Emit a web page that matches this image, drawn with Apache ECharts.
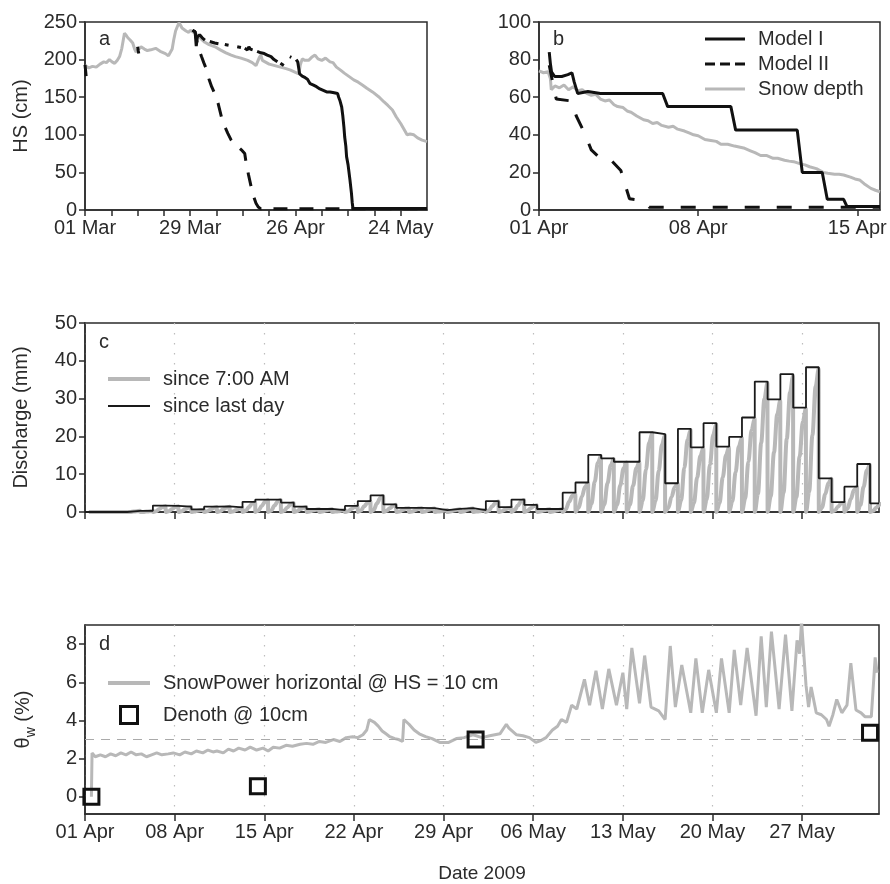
<!DOCTYPE html>
<html>
<head>
<meta charset="utf-8">
<script src="https://cdn.jsdelivr.net/npm/echarts@6.0.0/dist/echarts.min.js"></script>
<style>
  html, body { margin: 0; padding: 0; background: #fff; }
  #chart { width: 890px; height: 884px; }
</style>
</head>
<body>
<div id="chart"></div>
<script>
// ---- panel a : days since 01 Mar ----
var aTickDays = [0, 7, 14, 21, 28, 35, 42, 49, 56, 63, 70, 77, 84];
var aLabelDays = [0, 28, 56, 84];
var aLabels = ['01 Mar', '29 Mar', '26 Apr', '24 May'];

var snowA = [[0,192],[1,189],[2,191],[3,190],[4,194],[5,197],[5.7,196],[6.5,200],[7.2,197],[7.9,195],[8.6,199],[9.2,204],[9.8,215],[10.5,235],[11,232],[11.4,229],[12,226],[12.7,222],[13.2,214],[13.6,210],[14.3,214],[14.9,217],[15.8,214],[16.6,212],[17.5,213],[18.8,215],[20,211],[21.4,208],[22.2,205],[22.7,203],[23.2,214],[23.6,226],[24.1,238],[24.5,243],[25,249],[25.4,246],[25.8,242],[26.2,241],[26.9,238],[27.6,236],[28,239],[28.4,238],[29.3,235],[30.2,231],[31,227],[31.9,223],[33,220],[34.6,217],[36,213],[37.5,209],[38.9,206],[40,204],[41.5,202],[43.3,199],[44.5,196],[45.5,192],[46,194],[46.4,203],[46.8,206],[47.2,199],[47.7,197],[49,194],[50.5,192],[52,190],[53.5,188],[54.7,186],[56,183],[56.9,181],[57.3,193],[57.8,201],[58.5,199],[59.5,199],[60.3,203],[61.2,206],[62,201],[63,199],[64,202],[65.2,197],[66,196],[66.9,190],[68,186],[69,182],[70.4,177],[71.5,173],[72.7,170],[73.9,166],[75,162],[76.5,157],[78.3,150],[79.5,144],[80.6,139],[81.8,133],[82.8,124],[84,115],[84.8,108],[85.7,100],[86.5,101],[87.5,100],[88.5,96],[89.7,93],[91,91]];

var modelIA = [[0,193],[0.15,186],[0.3,178],[0.3,'-'],
  [14,217],[14.15,212],[14.3,208],[14.3,'-'],
  [28.6,239],[29.3,237],[29.6,218],[29.9,230],[30.5,233],[31.2,229],[31.9,226],[32,'-'],
  [33.2,224],[34.5,222],[35.5,221],[35.6,'-'],
  [37.2,220],[38.2,219],[38.3,'-'],
  [40.5,217],[41.5,216],[41.6,'-'],
  [42.5,215],[43.2,213],[43.6,217],[44,214],[44.6,213],[44.7,'-'],
  [45.8,211],[46.8,209],[47.7,208],[48.5,206],[49.5,204],[50.3,200],[51.2,197],[51.3,'-'],
  [52.0,195],[52.9,192],[53,'-'],
  [54.5,204],[54.9,203],[55,'-'],
  [56.2,200],[56.6,197],[57.1,181],[57.8,178],[58.6,176],[59.2,174],[59.9,168],[60.8,166],[61.6,164],[62.5,161],[63.4,159],[64.3,157],[65.2,157],[66.3,156],[67.2,155],[67.5,150],[67.8,146],[68.3,137],[68.6,125],[68.9,110],[69.1,97],[69.4,85],[69.6,71],[70,60],[70.5,40],[70.9,22],[71.1,10],[71.3,2],[91,2]];

var modelIIA = [[28.6,239],[29.3,237],[30,218],[31,204],[31.6,196],[32.4,186],[33,174],[33.7,164],[34.5,155],[35.4,142],[36.3,124],[37.2,111],[38,102],[38.9,93],[39.8,87],[40.7,84],[41.6,80],[42.5,75],[42.9,62],[43.5,47],[44.2,31],[44.8,19],[45.5,9],[46.1,4],[46.8,1.5],[91,1.5]];

// ---- panel b : days since 01 Apr ----
var bTickDays = [0, 7, 14];
var bLabels = ['01 Apr', '08 Apr', '15 Apr'];

var modelIB = [[0.45,84],[0.5,78],[0.55,73.5],[0.69,71],[1.0,71],[1.27,72],[1.45,73],[1.55,68],[1.7,62],[2.15,63],[2.7,62],[5.44,62],[5.66,55],[8.44,55],[8.65,42.5],[11.36,42.5],[11.58,20],[12.46,20],[12.68,5.7],[13.4,5.7],[13.55,1.8],[15,1.8]];
var modelIIB = [[0.45,77],[0.6,68],[0.76,59],[1.42,58],[1.64,50],[2.0,41],[2.3,32],[2.73,27],[3.17,26.5],[3.6,21],[3.8,13],[3.98,6],[4.56,5],[4.85,1.5],[15,1.5]];
var snowB = [[0,74],[0.2,73],[0.4,73.5],[0.5,70],[0.54,64],[0.7,66],[0.9,65],[1.1,66.5],[1.3,64],[1.5,65.5],[1.7,63.5],[1.9,64],[2.1,62],[2.3,61],[2.5,61.5],[2.7,59],[2.9,58],[3.1,58.5],[3.3,56],[3.46,55],[3.7,54.5],[3.9,52.5],[4.05,52],[4.3,50],[4.6,48],[4.8,47.5],[5.0,46],[5.2,46.5],[5.4,45],[5.7,44],[5.9,44.5],[6.1,43],[6.4,42],[6.6,41],[6.8,40],[7.0,39.5],[7.3,37.5],[7.56,37],[7.8,36.5],[8.0,35],[8.3,35],[8.6,34],[8.8,33.5],[9.0,33],[9.3,31.5],[9.5,30.5],[9.75,29],[10,29],[10.3,27.5],[10.5,27.5],[10.8,26.5],[11.0,26],[11.2,25.7],[11.5,24.5],[11.7,24],[11.9,23],[12.2,22],[12.5,20],[12.7,19.5],[13.0,19],[13.2,19],[13.4,18.6],[13.7,17.5],[13.9,16.5],[14.1,16],[14.3,14],[14.6,11.5],[14.8,10.5],[15,9.7]];

// ---- panels c, d : days since 01 Apr ----
var weekDays = [0, 7, 14, 21, 28, 35, 42, 49, 56];
var weekLabels = ['01 Apr', '08 Apr', '15 Apr', '22 Apr', '29 Apr', '06 May', '13 May', '20 May', '27 May'];

// daily discharge since last day (mm), day d covers d+0.3 .. d+1.3
var dischargeDaily = [0,0,0,0.3,0.3,1.7,1.6,1.4,0.7,1.4,1.5,1.2,2.7,3.3,3.3,2.5,1.4,0.8,0.8,0.5,1.6,2.9,4.4,2.0,1.1,1.1,1.0,0.5,0.8,1.0,0.5,2.9,1.3,3.3,1.9,0.8,0.8,5.1,7.8,15.1,14.2,13.3,13.3,21.1,20.6,7.6,22.0,17.1,23.5,17.3,19.9,25.0,34.5,29.8,36.5,27.6,38.3,8.9,2.6,6.7,12.7,2.3];
// within-day sample offsets after 7:00 AM reset
var dayOffsets = [0.3, 0.55, 0.8, 1.05, 1.29];
// discharge since 7:00 AM at those offsets (first offset is the reset, 0)
var discharge7am = [
  [0,0,0,0],[0,0,0,0],[0,0,0,0],[0,0.1,0.2,0.3],[0,0.1,0.2,0.3],
  [0.2,0.8,1.3,1.5],[0.2,0.8,1.3,1.5],[0.2,0.7,1.1,1.3],[0.1,0.3,0.5,0.6],[0.2,0.6,1.1,1.3],
  [0.2,0.7,1.2,1.4],[0.1,0.5,0.9,1.1],[0.3,1.3,2.2,2.6],[0.4,1.6,2.7,3.1],[0.4,1.7,2.8,3.2],
  [0.3,1.2,2.0,2.4],[0.2,0.7,1.1,1.3],[0.1,0.4,0.6,0.7],[0.1,0.4,0.6,0.7],[0.1,0.2,0.4,0.5],
  [0.2,0.8,1.3,1.5],[0.4,1.5,2.4,2.8],[0.6,2.3,3.7,4.2],[0.3,1.0,1.6,1.9],[0.1,0.5,0.9,1.0],
  [0.1,0.5,0.9,1.0],[0.1,0.5,0.8,0.9],[0.1,0.2,0.4,0.5],[0.1,0.4,0.6,0.7],[0.1,0.5,0.8,0.9],
  [0.1,0.2,0.4,0.5],[0.4,1.5,2.4,2.8],[0.2,0.6,1.0,1.2],[0.5,1.7,2.8,3.2],[0.3,1.0,1.6,1.8],
  [0.1,0.4,0.6,0.7],[0.1,0.4,0.6,0.7],[0.7,2.7,4.3,4.9],[1.1,4.1,6.7,7.6],[2.2,8.0,13.0,14.8],
  [2.0,7.6,12.3,14.0],[1.9,7.1,11.5,13.1],[1.9,7.0,11.6,13.2],[3.0,11.2,18.3,20.8],[2.9,10.9,17.8,20.3],
  [1.1,4.0,6.6,7.5],[3.1,11.7,19.1,21.7],[2.4,9.1,14.8,16.9],[3.3,12.5,20.4,23.2],[2.4,9.2,15.0,17.1],
  [2.8,10.5,17.3,19.6],[3.5,13.3,21.7,24.7],[4.8,18.3,29.9,34.1],[4.2,15.8,25.8,29.4],[5.1,19.4,31.6,36.0],
  [3.9,14.6,23.9,27.3],[5.4,20.3,33.2,37.8],[1.2,4.7,7.7,8.8],[0.4,1.4,2.3,2.5],[0.9,3.5,5.8,6.6],
  [1.8,6.7,11.0,12.5],[0.3,1.2,2.0,2.4]
];

var thetaLabelValues = [0, 2, 4, 6, 8];
var snowPower = [[0.5,0],[0.55,2.3],[0.8,2.1],[1.2,2.2],[1.6,2.1],[2.0,2.25],[2.4,2.15],[2.8,2.3],[3.2,2.2],[3.6,2.35],[4.0,2.2],[4.4,2.25],[4.8,2.1],[5.2,2.2],[5.6,2.3],[6.0,2.2],[6.5,2.25],[6.9,2.3],[7.4,2.2],[7.8,2.35],[8.3,2.25],[8.7,2.4],[9.2,2.3],[9.6,2.45],[10.0,2.35],[10.3,2.4],[10.8,2.3],[11.2,2.5],[11.6,2.4],[12.0,2.55],[12.5,2.45],[12.9,2.6],[13.4,2.45],[13.9,2.55],[14.3,2.4],[14.7,2.6],[15.2,2.55],[15.7,2.7],[16.2,2.65],[16.8,2.75],[17.3,2.8],[17.8,2.75],[18.3,2.9],[18.8,2.85],[19.4,3.0],[19.9,2.9],[20.4,3.1],[20.9,3.15],[21.3,3.1],[21.7,3.25],[22.0,3.5],[22.2,4.05],[22.6,3.9],[22.9,3.7],[23.2,3.45],[23.5,3.3],[23.8,3.15],[24.2,3.05],[24.5,3.0],[24.8,2.9],[24.9,4.05],[25.3,3.8],[25.7,3.5],[26.1,3.3],[26.6,3.15],[27.1,3.05],[27.7,2.85],[28.4,2.85],[29.0,3.05],[29.6,3.1],[30.3,3.25],[31.0,3.1],[31.6,3.2],[32.4,3.3],[32.9,3.8],[33.1,3.6],[33.7,3.25],[34.2,3.2],[34.7,3.1],[35.2,2.85],[35.6,2.95],[36.0,3.1],[36.5,3.5],[36.9,3.7],[37.2,4.05],[37.6,3.9],[38.0,4.8],[38.4,4.6],[39.0,6.15],[39.4,4.8],[39.9,6.6],[40.4,4.6],[40.9,6.7],[41.5,4.8],[42.0,6.5],[42.3,4.6],[42.7,7.8],[43.3,4.9],[43.7,7.4],[44.2,4.7],[44.8,4.5],[45.3,4.05],[45.7,7.9],[46.1,4.7],[46.6,6.9],[47.3,4.4],[47.7,7.25],[48.2,4.4],[48.7,6.65],[49.3,4.4],[49.7,7.25],[50.3,4.4],[50.7,7.7],[51.2,4.8],[51.7,7.8],[52.4,4.25],[52.8,8.4],[53.2,4.7],[53.6,8.65],[54.2,4.6],[54.7,8.5],[55.2,4.5],[55.6,8.2],[55.8,7.5],[55.95,9.2],[56.3,5.85],[56.5,4.7],[56.7,5.75],[57.1,4.4],[57.5,4.3],[57.9,4.05],[58.1,3.7],[58.4,4.3],[58.7,5.1],[59.1,4.4],[59.5,4.8],[59.8,7.0],[60.2,4.55],[60.6,4.4],[60.9,4.2],[61.4,4.2],[61.7,7.3],[61.85,6.5]];
var denoth = [[0.5,0],[13.5,0.55],[30.5,3.0],[61.3,3.35]];
var thetaRef = 3;

// build step + sawtooth series from the daily arrays
var stepData = [[0, 0]];
dischargeDaily.forEach(function (v, d) { stepData.push([d + 0.3, v]); });
stepData.push([62, dischargeDaily[dischargeDaily.length - 1]]);

var sawData = [];
discharge7am.forEach(function (vals, d) {
  sawData.push([d + dayOffsets[0], 0]);
  vals.forEach(function (v, k) { sawData.push([d + dayOffsets[k + 1], v]); });
});

var FONT = 'Liberation Sans, Arial, sans-serif';
var INK = '#2b2b2b';
var GRAY = '#b8b8b8';
var SQUARE = 'path://M0,0L10,0L10,10L0,10Z';
// legend line swatches (filled strips)
var SOLID3 = 'path://M0,0H40V3H0Z';
var SOLID4 = 'path://M0,0H42V4H0Z';
var SOLID2 = 'path://M0,0H42V1.8H0Z';
var DASH3 = 'path://M0,0H10V3H0Z M15,0H25V3H15Z M30,0H40V3H30Z';

function axisBase(extra) {
  var base = {
    type: 'value',
    axisLine: { show: true, onZero: false, lineStyle: { color: INK, width: 1.5 } },
    axisTick: { show: true, length: 6, lineStyle: { color: INK, width: 1.5 } },
    axisLabel: { color: INK, fontSize: 20, fontFamily: FONT, margin: 8 },
    splitLine: { show: false }
  };
  for (var k in extra) {
    if (typeof extra[k] === 'object' && base[k] && !Array.isArray(extra[k])) {
      for (var j in extra[k]) base[k][j] = extra[k][j];
    } else base[k] = extra[k];
  }
  return base;
}

var gridBase = { show: true, borderColor: INK, borderWidth: 1.5, backgroundColor: 'transparent', containLabel: false };
var dotted = { show: true, lineStyle: { color: '#bdbdbd', width: 1.2, type: [1.5, 8.5] } };
var legendText = { color: INK, fontSize: 20, fontFamily: FONT, padding: [0, 0, 0, 8] };
var noBorder = { borderWidth: 0 };
var squareStyle = { color: 'rgba(255,255,255,0)', borderColor: '#111', borderWidth: 3, opacity: 1 };

var chart = echarts.init(document.getElementById('chart'), null, { renderer: 'canvas' });
chart.setOption({
  animation: false,
  textStyle: { fontFamily: FONT },
  grid: [
    Object.assign({ left: 85, top: 22, width: 342, height: 188 }, gridBase),
    Object.assign({ left: 539, top: 22, width: 341, height: 188 }, gridBase),
    Object.assign({ left: 85, top: 323, width: 794, height: 189 }, gridBase),
    Object.assign({ left: 85, top: 625, width: 794, height: 189 }, gridBase)
  ],
  xAxis: [
    axisBase({ gridIndex: 0, min: 0, max: 91,
      axisTick: { customValues: aTickDays },
      axisLabel: { customValues: aLabelDays, formatter: function (v) { return aLabels[aLabelDays.indexOf(v)]; } } }),
    axisBase({ gridIndex: 1, min: 0, max: 15,
      axisTick: { customValues: bTickDays },
      axisLabel: { customValues: bTickDays, formatter: function (v) { return bLabels[bTickDays.indexOf(v)]; } } }),
    axisBase({ gridIndex: 2, min: 0, max: 62,
      axisTick: { customValues: weekDays, length: 7 },
      axisLabel: { show: false, customValues: weekDays },
      splitLine: dotted }),
    axisBase({ gridIndex: 3, min: 0, max: 62,
      axisTick: { customValues: weekDays, length: 7 },
      axisLabel: { customValues: weekDays, formatter: function (v) { return weekLabels[weekDays.indexOf(v)]; } },
      splitLine: dotted,
      name: 'Date 2009', nameLocation: 'middle', nameGap: 50,
      nameTextStyle: { color: INK, fontSize: 19, fontFamily: FONT } })
  ],
  yAxis: [
    axisBase({ gridIndex: 0, min: 0, max: 250, interval: 50,
      name: 'HS (cm)', nameLocation: 'middle', nameGap: 54, nameRotate: 90,
      nameTextStyle: { color: INK, fontSize: 20, fontFamily: FONT } }),
    axisBase({ gridIndex: 1, min: 0, max: 100, interval: 20 }),
    axisBase({ gridIndex: 2, min: 0, max: 50, interval: 10,
      name: 'Discharge (mm)', nameLocation: 'middle', nameGap: 54, nameRotate: 90,
      nameTextStyle: { color: INK, fontSize: 20, fontFamily: FONT } }),
    axisBase({ gridIndex: 3, min: -0.9, max: 9,
      axisTick: { customValues: thetaLabelValues },
      axisLabel: { customValues: thetaLabelValues },
      name: '{t|θ}{s|w}{t| (%)}', nameLocation: 'middle', nameGap: 50, nameRotate: 90,
      nameTextStyle: { color: INK, fontFamily: FONT,
        rich: {
          t: { fontSize: 20, color: INK, fontFamily: FONT, lineHeight: 24, verticalAlign: 'middle' },
          s: { fontSize: 14, color: INK, fontFamily: FONT, lineHeight: 24, verticalAlign: 'bottom', padding: [0, 0, -3, 0] }
        } } })
  ],
  legend: [
    { left: 700, top: 24, orient: 'vertical', itemWidth: 40, itemHeight: 14, itemGap: 5, textStyle: legendText,
      itemStyle: noBorder,
      data: [{ name: 'Model I', icon: SOLID3 }, { name: 'Model II', icon: DASH3 }, { name: 'Snow depth', icon: SOLID3 }] },
    { left: 103, top: 364, orient: 'vertical', itemWidth: 42, itemHeight: 14, itemGap: 7, textStyle: legendText,
      itemStyle: noBorder,
      data: [{ name: 'since 7:00 AM', icon: SOLID4 }, { name: 'since last day', icon: SOLID2 }] },
    { left: 103, top: 668, orient: 'vertical', itemWidth: 42, itemHeight: 17, itemGap: 12, textStyle: legendText,
      data: [{ name: 'SnowPower horizontal @ HS = 10 cm', icon: SOLID4, itemStyle: noBorder },
             { name: 'Denoth @ 10cm', icon: SQUARE, itemStyle: squareStyle }] }
  ],
  graphic: [
    { type: 'text', left: 99, top: 29, style: { text: 'a', fontSize: 20, fill: INK, fontFamily: FONT } },
    { type: 'text', left: 553, top: 29, style: { text: 'b', fontSize: 20, fill: INK, fontFamily: FONT } },
    { type: 'text', left: 99, top: 332, style: { text: 'c', fontSize: 20, fill: INK, fontFamily: FONT } },
    { type: 'text', left: 99, top: 634, style: { text: 'd', fontSize: 20, fill: INK, fontFamily: FONT } }
  ],
  series: [
    { name: 'Snow depth', type: 'line', xAxisIndex: 0, yAxisIndex: 0, data: snowA, symbol: 'none',
      lineStyle: { color: GRAY, width: 3 }, itemStyle: { color: GRAY } },
    { name: 'Model II', type: 'line', xAxisIndex: 0, yAxisIndex: 0, data: modelIIA, symbol: 'none',
      lineStyle: { color: '#111', width: 3, type: [14, 12] }, itemStyle: { color: '#111' } },
    { name: 'Model I', type: 'line', xAxisIndex: 0, yAxisIndex: 0, data: modelIA, symbol: 'none',
      lineStyle: { color: '#111', width: 3 }, itemStyle: { color: '#111' } },

    { name: 'Snow depth', type: 'line', xAxisIndex: 1, yAxisIndex: 1, data: snowB, symbol: 'none',
      lineStyle: { color: GRAY, width: 3 }, itemStyle: { color: GRAY } },
    { name: 'Model II', type: 'line', xAxisIndex: 1, yAxisIndex: 1, data: modelIIB, symbol: 'none',
      lineStyle: { color: '#111', width: 3, type: [15, 17] }, itemStyle: { color: '#111' } },
    { name: 'Model I', type: 'line', xAxisIndex: 1, yAxisIndex: 1, data: modelIB, symbol: 'none',
      lineStyle: { color: '#111', width: 3 }, itemStyle: { color: '#111' } },

    { name: 'since 7:00 AM', type: 'line', xAxisIndex: 2, yAxisIndex: 2, data: sawData, symbol: 'none',
      smooth: 0.35, smoothMonotone: 'x',
      lineStyle: { color: GRAY, width: 4 }, itemStyle: { color: GRAY } },
    { name: 'since last day', type: 'line', xAxisIndex: 2, yAxisIndex: 2, data: stepData, step: 'end', symbol: 'none',
      lineStyle: { color: '#1a1a1a', width: 1.8 }, itemStyle: { color: '#1a1a1a' } },

    { name: 'SnowPower horizontal @ HS = 10 cm', type: 'line', xAxisIndex: 3, yAxisIndex: 3, data: snowPower, symbol: 'none',
      lineStyle: { color: GRAY, width: 3 }, itemStyle: { color: GRAY },
      markLine: { silent: true, symbol: 'none', label: { show: false },
        lineStyle: { color: '#aaaaaa', width: 1, type: [9, 7] }, data: [{ yAxis: thetaRef }] } },
    { name: 'Denoth @ 10cm', type: 'scatter', xAxisIndex: 3, yAxisIndex: 3, data: denoth,
      symbol: SQUARE, symbolSize: 15, z: 5, itemStyle: squareStyle }
  ]
});
</script>
</body>
</html>
